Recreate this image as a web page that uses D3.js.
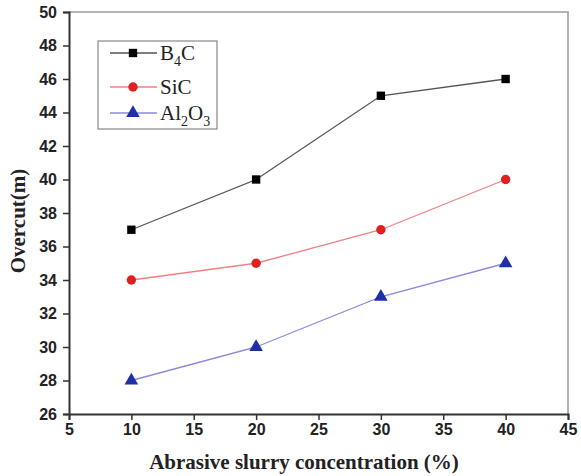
<!DOCTYPE html>
<meta charset="utf-8">
<script src="https://d3js.org/d3.v7.min.js"></script>
<style>
body { margin: 0; background: #fff; }
</style>
<div id="chart"></div>
<script>
// data
var concentration = [10, 20, 30, 40];
var b4c = [37, 40, 45, 46];
var sic = [34, 35, 37, 40];
var al2o3 = [28, 30, 33, 35];
var xTicks = [5, 10, 15, 20, 25, 30, 35, 40, 45];
var yTicks = [26, 28, 30, 32, 34, 36, 38, 40, 42, 44, 46, 48, 50];

var series = [
  {name: "B4C", values: b4c, line: "#555", fill: "#000", shape: d3.symbolSquare},
  {name: "SiC", values: sic, line: "#f08080", fill: "#e02020", shape: d3.symbolCircle},
  {name: "Al2O3", values: al2o3, line: "#8a8ae0", fill: "#1f2fa8", shape: d3.symbolTriangle}
];

var width = 581, height = 476;
var margin = {top: 12, right: 13, bottom: 62, left: 69};

var svg = d3.select("#chart").append("svg")
  .attr("width", width)
  .attr("height", height);

var x = d3.scaleLinear().domain([5, 45]).range([margin.left, width - margin.right]);
var y = d3.scaleLinear().domain([26, 50]).range([height - margin.bottom, margin.top]);

// top and right frame
svg.append("path")
  .attr("d", "M" + x(5) + "," + y(50) + "H" + x(45) + "V" + y(26))
  .attr("fill", "none")
  .attr("stroke", "#999")
  .attr("stroke-width", 1.5);

// axes
var xAxis = svg.append("g")
  .attr("transform", "translate(0," + y(26) + ")")
  .call(d3.axisBottom(x).tickValues(xTicks).tickSize(6).tickPadding(4));
var yAxis = svg.append("g")
  .attr("transform", "translate(" + x(5) + ",0)")
  .call(d3.axisLeft(y).tickValues(yTicks).tickSize(6).tickPadding(6));

[xAxis, yAxis].forEach(function(a) {
  a.select(".domain").attr("stroke", "#333").attr("stroke-width", 2);
  a.selectAll(".tick line").attr("stroke", "#333").attr("stroke-width", 1.5);
  a.selectAll("text")
    .attr("fill", "#222")
    .style("font-family", "'Liberation Sans', Arial, sans-serif")
    .style("font-weight", "bold")
    .style("font-size", "16px");
});

// axis titles
svg.append("text")
  .attr("x", 304)
  .attr("y", 469)
  .attr("text-anchor", "middle")
  .style("font-family", "'Liberation Serif', 'Times New Roman', serif")
  .style("font-weight", "bold")
  .style("font-size", "21px")
  .attr("fill", "#222")
  .text("Abrasive slurry concentration (%)");

svg.append("text")
  .attr("transform", "translate(25,221) rotate(-90)")
  .attr("text-anchor", "middle")
  .style("font-family", "'Liberation Serif', 'Times New Roman', serif")
  .style("font-weight", "bold")
  .style("font-size", "21px")
  .attr("fill", "#222")
  .text("Overcut(m)");

// lines and markers
var line = d3.line()
  .x(function(d, i) { return x(concentration[i]); })
  .y(function(d) { return y(d); });

series.forEach(function(s) {
  svg.append("path")
    .datum(s.values)
    .attr("d", line)
    .attr("fill", "none")
    .attr("stroke", s.line)
    .attr("stroke-width", 1.3);

  svg.selectAll(null)
    .data(s.values)
    .enter()
    .append("path")
      .attr("transform", function(d, i) { return "translate(" + x(concentration[i]) + "," + y(d) + ")"; })
      .attr("d", d3.symbol().type(s.shape).size(s.shape === d3.symbolTriangle ? 80 : 70))
      .attr("fill", s.fill);
});

// legend
var legend = svg.append("g");
legend.append("rect")
  .attr("x", 98).attr("y", 41)
  .attr("width", 119).attr("height", 88)
  .attr("fill", "#fff")
  .attr("stroke", "#888")
  .attr("stroke-width", 1.2);

var legendY = [53, 87, 113];
series.forEach(function(s, i) {
  var g = legend.append("g").attr("transform", "translate(0," + legendY[i] + ")");
  g.append("line")
    .attr("x1", 110).attr("x2", 157)
    .attr("stroke", s.line)
    .attr("stroke-width", 1.3);
  g.append("path")
    .attr("transform", "translate(133,0)")
    .attr("d", d3.symbol().type(s.shape).size(s.shape === d3.symbolTriangle ? 80 : 70))
    .attr("fill", s.fill);
  var t = g.append("text")
    .attr("x", 160)
    .attr("y", 7)
    .style("font-family", "'Liberation Serif', 'Times New Roman', serif")
    .style("font-size", "21px")
    .attr("fill", "#222");
  if (s.name === "B4C") {
    t.append("tspan").text("B");
    t.append("tspan").attr("dy", 6).style("font-size", "14px").text("4");
    t.append("tspan").attr("dy", -6).text("C");
  } else if (s.name === "Al2O3") {
    t.append("tspan").text("Al");
    t.append("tspan").attr("dy", 6).style("font-size", "14px").text("2");
    t.append("tspan").attr("dy", -6).text("O");
    t.append("tspan").attr("dy", 6).style("font-size", "14px").text("3");
  } else {
    t.text(s.name);
  }
});
</script>
